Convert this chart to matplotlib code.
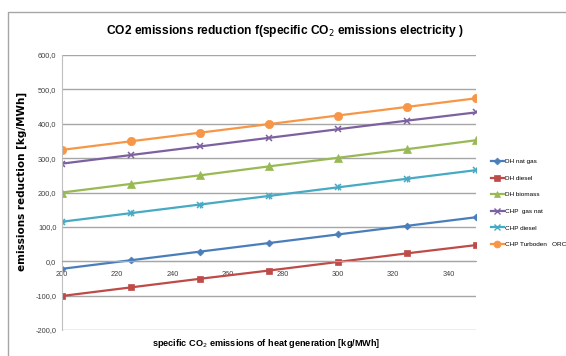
import matplotlib.pyplot as plt
from matplotlib import font_manager
from matplotlib.lines import Line2D
from matplotlib.ticker import FuncFormatter

heat_co2 = [200, 225, 250, 275, 300, 325, 350]

dh_nat_gas = [-22, 3, 28, 53, 78, 103, 128]
dh_diesel = [-101, -76, -51, -27, -2, 23, 47]
dh_biomass = [200, 225, 250, 276, 301, 326, 352]
chp_gas_nat = [284, 309, 334, 359, 384, 409, 433]
chp_diesel = [115, 140, 165, 190, 215, 240, 265]
chp_orc = [324, 349, 374, 399, 424, 449, 474]

series = [
    ("DH nat gas", dh_nat_gas, "#4a7ebb", "D", 3.5),
    ("DH diesel", dh_diesel, "#be4b48", "s", 5),
    ("DH biomass", dh_biomass, "#98b954", "^", 5.5),
    ("CHP  gas nat", chp_gas_nat, "#7d60a0", "x", 5),
    ("CHP diesel", chp_diesel, "#46aac5", "x", 5),
    ("CHP Turboden   ORC", chp_orc, "#f79646", "o", 6),
]

names = {f.name for f in font_manager.fontManager.ttflist}
narrow = 'Liberation Sans Narrow' in names
base = 'Liberation Sans Narrow' if narrow else 'Liberation Sans'
k = 1.0 if narrow else 0.82
plt.rcParams['font.family'] = [base, 'DejaVu Sans']

fig = plt.figure(figsize=(5.66, 3.56), dpi=100)
ax = fig.add_axes([62 / 566, 1 - 330 / 356, 414 / 566, 275 / 356])

for name, vals, col, mk, ms in series:
    ax.plot(heat_co2, vals, color=col, lw=1.6, marker=mk, markersize=ms,
            markeredgewidth=1.1 if mk == "x" else 0.5, label=name)
    if name == "CHP diesel":
        ax.plot(heat_co2, vals, color=col, lw=0, marker="+", markersize=ms,
                markeredgewidth=1.0)

ax.set_xlim(200, 350)
ax.set_ylim(-200, 600)
ax.set_xticks(range(200, 350, 20))
ax.set_yticks(range(-200, 601, 100))
ax.yaxis.set_major_formatter(FuncFormatter(lambda v, p: f"{v:.1f}".replace(".", ",")))
ax.grid(axis='y', color='#a6a6a6', lw=1)
ax.set_axisbelow(True)

# x axis sits on the zero line
ax.spines['bottom'].set_position(('data', 0))
ax.spines['bottom'].set_color('#a6a6a6')
ax.spines['left'].set_color('#bfbfbf')
ax.spines['top'].set_visible(False)
ax.spines['right'].set_visible(False)
ax.tick_params(axis='both', length=0, labelsize=6.5 * k, colors='#404040', pad=4)
ax.tick_params(axis='x', pad=7)

fig.text(22 / 566, 1 - 181 / 356, "emissions reduction [kg/MWh]", rotation=90,
         ha='center', va='center', fontsize=7.5, fontweight='bold', family=['DejaVu Sans'])
fig.text(266 / 566, 1 - 343 / 356, "specific CO$_2$ emissions of heat generation [kg/MWh]",
         ha='center', va='center', fontsize=8.0 * k, fontweight='bold')
fig.text(285 / 566, 1 - 31 / 356, "CO2 emissions reduction f(specific CO$_2$ emissions electricity )",
         ha='center', va='center', fontsize=10.5 * k, fontweight='bold')

handles = [Line2D([], [], color=c, lw=1.6, marker=m, markersize=min(s, 5),
                  markeredgewidth=1.0 if m == "x" else 0.5) for _, _, c, m, s in series]
fig.legend(handles, [s[0] for s in series], loc='center left',
           bbox_to_anchor=(491 / 566, 1 - 203 / 356), frameon=False,
           fontsize=5.6 * k, handlelength=2.0, handletextpad=0.2, labelspacing=1.75,
           borderaxespad=0, borderpad=0)

# chart border (left and top edges)
fig.add_artist(Line2D([8 / 566, 8 / 566, 1], [0, 1 - 12 / 356, 1 - 12 / 356],
                      transform=fig.transFigure, color='#a6a6a6', lw=1))

plt.savefig('out.png', dpi=100)
